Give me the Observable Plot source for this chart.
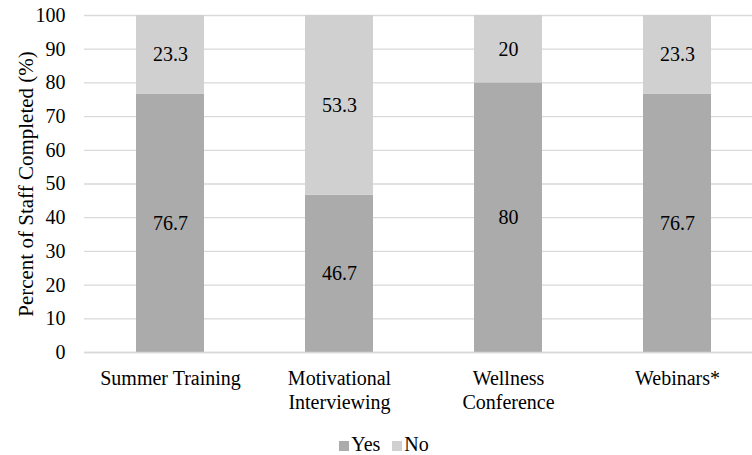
<!DOCTYPE html>
<html>
<head>
<meta charset="utf-8">
<script src="https://cdn.jsdelivr.net/npm/d3@7"></script>
<script src="https://cdn.jsdelivr.net/npm/@observablehq/plot@0.6"></script>
<style>
  html, body { margin: 0; padding: 0; background: #fff; }
  body { width: 752px; height: 455px; overflow: hidden; font-family: "Liberation Serif", "Times New Roman", serif; }
  svg, svg text { font-family: "Liberation Serif", "Times New Roman", serif !important; }
  #legend { height: 35px; box-sizing: border-box; padding-top: 13px; padding-left: 16px; display: flex; justify-content: center; align-items: center; font-size: 20px; color: #000; }
  .item { display: flex; align-items: center; margin: 0 6px; }
  .sw { width: 10px; height: 10px; margin-right: 2px; margin-top: 3px; display: inline-block; }
</style>
</head>
<body>
<div id="chart"></div>
<div id="legend"></div>
<script>
const categories = ["Summer Training", "Motivational Interviewing", "Wellness Conference", "Webinars*"];
const categoryLabels = ["Summer Training", "Motivational\nInterviewing", "Wellness\nConference", "Webinars*"];
const responses = ["Yes", "No"];
const yesValues = [76.7, 46.7, 80, 76.7];
const noValues = [23.3, 53.3, 20, 23.3];
const yTicks = [0, 10, 20, 30, 40, 50, 60, 70, 80, 90, 100];
const yLabel = "Percent of Staff Completed (%)";
const colors = ["#ababab", "#d0d0d0"];
const serif = "'Liberation Serif', 'Times New Roman', serif";

const data = [];
categories.forEach((c, i) => {
  data.push({cat: c, resp: "Yes", value: yesValues[i]});
  data.push({cat: c, resp: "No", value: noValues[i]});
});
const labelOf = new Map(categories.map((c, i) => [c, categoryLabels[i]]));

const chart = Plot.plot({
  width: 752,
  height: 420,
  marginTop: 15,
  marginBottom: 68,
  marginLeft: 84,
  marginRight: -10,
  style: {fontFamily: serif, fontSize: "20px", color: "#000", background: "#fff", overflow: "visible"},
  x: {domain: categories, paddingInner: 0.6, paddingOuter: 0.3, label: null},
  y: {domain: [0, 100], label: null},
  color: {domain: responses, range: colors},
  marks: [
    Plot.gridY(yTicks, {stroke: "#d9d9d9", strokeOpacity: 1, strokeWidth: 1.3}),
    Plot.barY(data, {x: "cat", y: "value", z: "resp", fill: "resp", order: responses}),
    Plot.text(data, Plot.stackY({x: "cat", y: "value", z: "resp", order: responses, text: d => String(d.value), fill: "#000", fontSize: 20, fontFamily: serif})),
    Plot.axisY({ticks: yTicks, tickSize: 0, tickPadding: 19, fontSize: 20, fontFamily: serif, label: null}),
    Plot.axisY({ticks: [], tickSize: 0, fontSize: 21, fontFamily: serif, label: yLabel, labelAnchor: "center", labelOffset: 66, labelArrow: "none"}),
    Plot.axisX({tickSize: 0, tickPadding: 15, fontSize: 20, fontFamily: serif, lineHeight: 1.2, tickFormat: d => labelOf.get(d), label: null}),
    Plot.ruleY([0], {stroke: "#d9d9d9", strokeWidth: 1.3})
  ]
});
document.getElementById("chart").appendChild(chart);

const legend = document.getElementById("legend");
responses.forEach((r, i) => {
  const item = document.createElement("span");
  item.className = "item";
  const sw = document.createElement("span");
  sw.className = "sw";
  sw.style.background = colors[i];
  item.appendChild(sw);
  item.appendChild(document.createTextNode(r));
  legend.appendChild(item);
});
</script>
</body>
</html>
